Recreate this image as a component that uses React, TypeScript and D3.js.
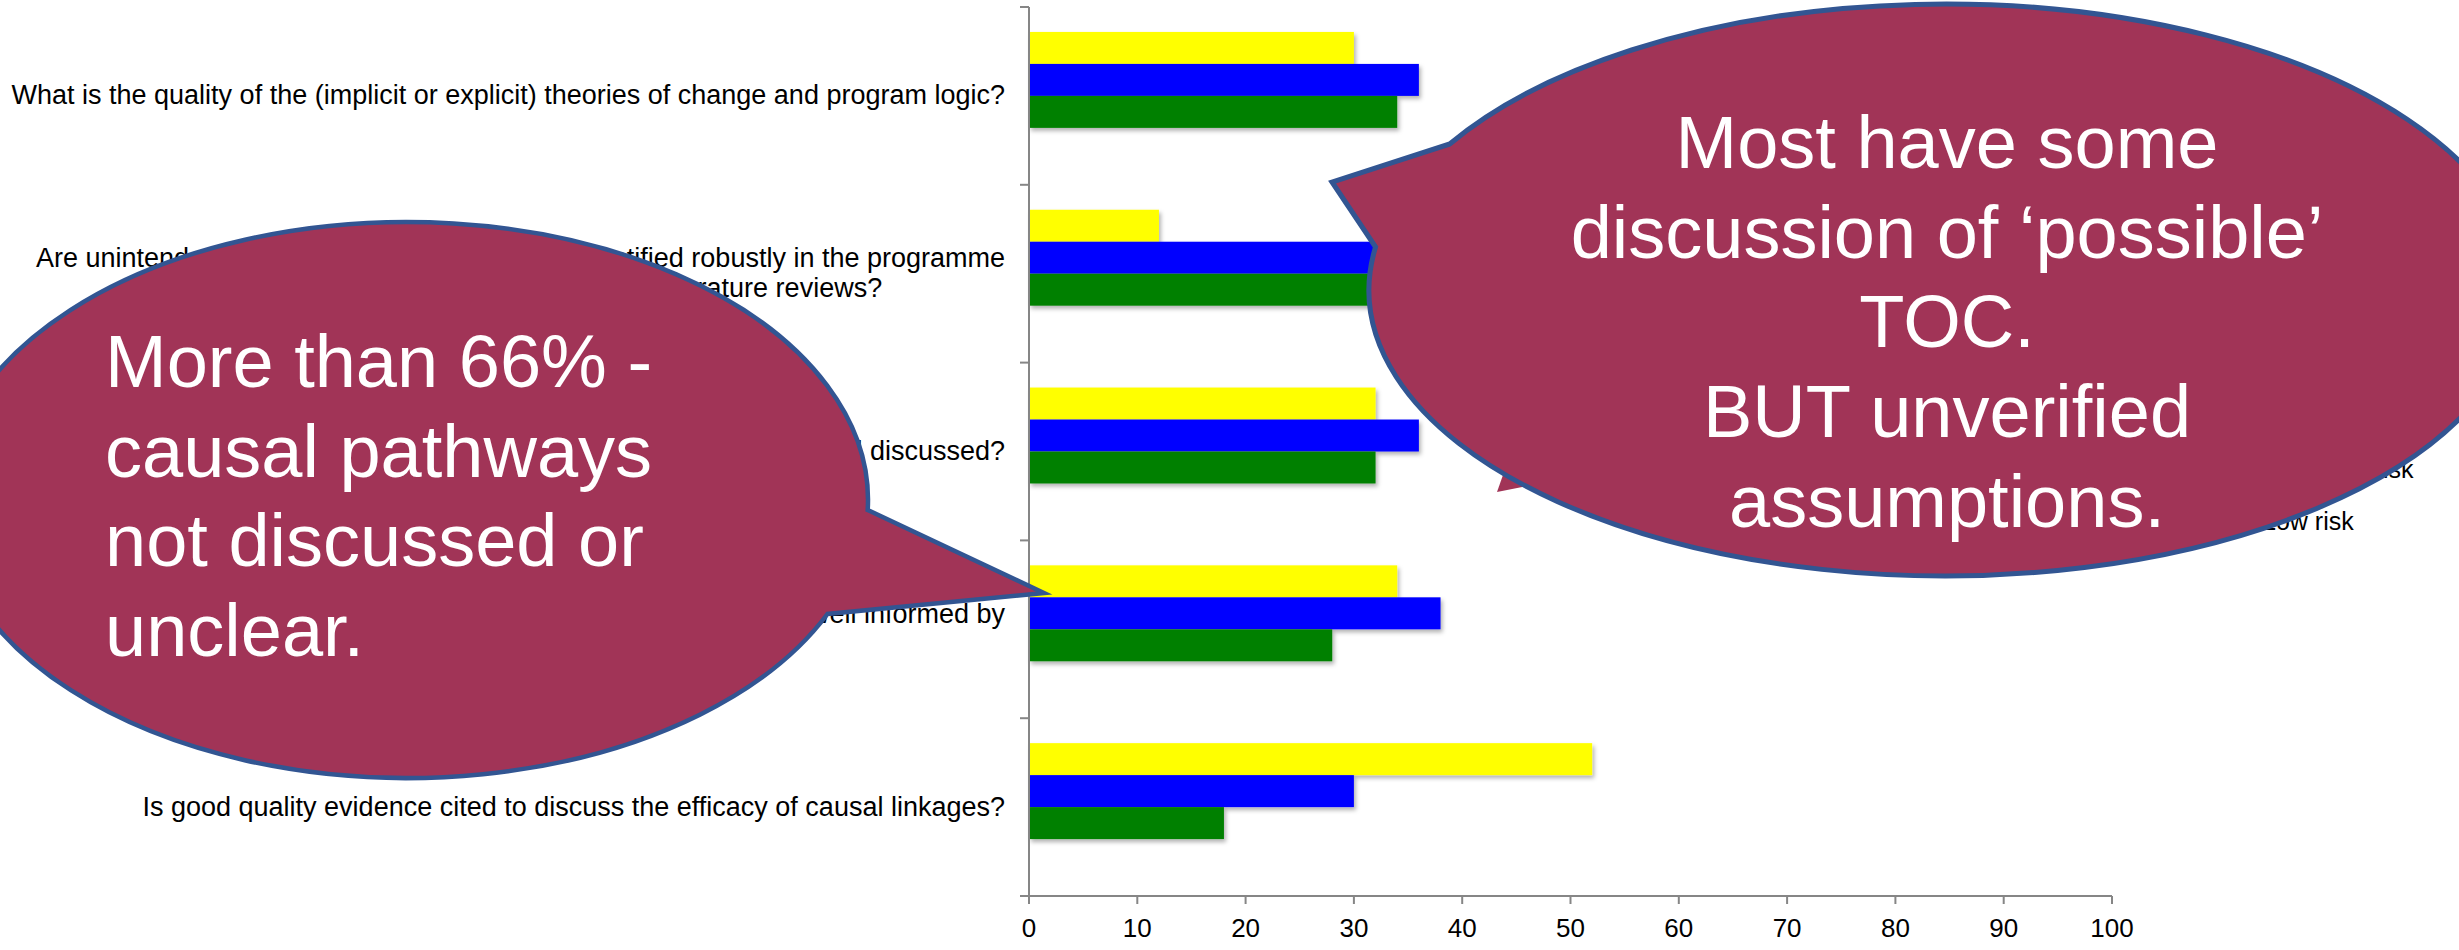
import React from "react";
import * as d3 from "d3";

const questions = [
  "What is the quality of the (implicit or explicit) theories of change and program logic?",
  "Are unintended impacts and negative effects identified robustly in the programme\ntheory of change documents and relevant literature reviews?",
  "Are the causal pathways and mechanisms clearly identified and well discussed?",
  "Is the theory of change and the programme logic well informed by\nevidence?",
  "Is good quality evidence cited to discuss the efficacy of causal linkages?",
];
const seriesNames = ["High risk", "Moderate risk", "Low risk"];
const highRisk = [30, 12, 32, 34, 52];
const moderateRisk = [36, 46, 36, 38, 30];
const lowRisk = [34, 42, 32, 28, 18];
const seriesValues = [highRisk, moderateRisk, lowRisk];
const seriesColors = ["#FFFF00", "#0000FF", "#008000"];
const xTicks = [0, 10, 20, 30, 40, 50, 60, 70, 80, 90, 100];

const leftCalloutLines = ["More than 66% -", "causal pathways", "not discussed or", "unclear."];
const rightCalloutLines = ["Most have some", "discussion of \u2018possible\u2019", "TOC.", "BUT unverified", "assumptions."];

const W = 2459;
const H = 950;
const FONT = "'Liberation Sans', Arial, Helvetica, sans-serif";
const LABEL_SIZE = 27;
const LABEL_LINE = 30;
const LABEL_RIGHT = 1005;
const AXIS_COLOR = "#868686";
const BUBBLE_FILL = "#A13457";
const BUBBLE_STROKE = "#325592";

let ctx: CanvasRenderingContext2D | null = null;
function measure(t: string): number {
  if (!ctx) {
    const c = document.createElement("canvas");
    ctx = c.getContext("2d");
  }
  if (!ctx) return t.length * 12;
  ctx.font = `${LABEL_SIZE}px ${FONT}`;
  return ctx.measureText(t).width;
}

function calloutPath(
  cx: number, cy: number, rx: number, ry: number,
  side: number, yA: number, yB: number, tip: [number, number], sweep: number
) {
  const xAt = (yv: number) => cx + side * rx * Math.sqrt(Math.max(0, 1 - ((yv - cy) / ry) ** 2));
  const ax = xAt(yA);
  const bx = xAt(yB);
  return `M${ax},${yA} L${tip[0]},${tip[1]} L${bx},${yB} A${rx},${ry} 0 1 ${sweep} ${ax},${yA} Z`;
}

export default function App() {
  const x = d3.scaleLinear().domain([0, 100]).range([1029, 2112]);
  const y = d3.scaleBand<string>().domain(questions).range([7, 896]);
  const slots = [...seriesNames, ""];
  const ySub = d3.scaleBand<string>().domain(slots).range([0, y.bandwidth()]).paddingOuter(0.78);
  const axisX = x(0);
  const axisY = y.range()[1];
  const boundaries = [...questions.map((q) => y(q) as number), axisY];

  const leftPath = calloutPath(407, 500, 461, 278, 1, 510, 614, [1044, 593], 1);
  const rightPath = calloutPath(1945, 290, 576, 286, -1, 144, 247, [1332, 182], 0);

  return (
    <svg
      width={W}
      height={H}
      style={{ position: "absolute", left: 0, top: 0, display: "block", background: "#fff" }}
      fontFamily={FONT}
    >
      <defs>
        <filter id="barShadow" x="-5%" y="-20%" width="115%" height="160%">
          <feDropShadow dx="2" dy="3" stdDeviation="2" floodColor="#000" floodOpacity="0.3" />
        </filter>
      </defs>

      {/* bars */}
      {questions.map((q, qi) => (
        <g key={q} transform={`translate(0,${y(q)})`}>
          {seriesNames.map((s, si) => (
            <rect
              key={s}
              x={axisX}
              y={ySub(s)}
              width={x(seriesValues[si][qi]) - axisX}
              height={ySub.bandwidth()}
              fill={seriesColors[si]}
              filter="url(#barShadow)"
            />
          ))}
        </g>
      ))}

      {/* y axis */}
      <line x1={axisX} x2={axisX} y1={y.range()[0]} y2={axisY} stroke={AXIS_COLOR} strokeWidth={2} />
      {boundaries.map((b, i) => (
        <line key={i} x1={axisX - 9} x2={axisX} y1={b} y2={b} stroke={AXIS_COLOR} strokeWidth={2} />
      ))}
      {/* x axis */}
      <line x1={axisX - 9} x2={x(100)} y1={axisY} y2={axisY} stroke={AXIS_COLOR} strokeWidth={2} />
      {xTicks.map((t) => (
        <g key={t}>
          <line x1={x(t)} x2={x(t)} y1={axisY} y2={axisY + 8} stroke={AXIS_COLOR} strokeWidth={2} />
          <text x={x(t)} y={axisY + 41} textAnchor="middle" fontSize={26} fill="#000">
            {t}
          </text>
        </g>
      ))}

      {/* category labels */}
      {questions.map((q) => {
        const lines = q.split("\n");
        const widths = lines.map(measure);
        const maxW = Math.max(...widths);
        const cxL = LABEL_RIGHT - maxW / 2;
        const c = (y(q) as number) + y.bandwidth() / 2;
        const firstBase = c + 8.5 - ((lines.length - 1) * LABEL_LINE) / 2;
        return (
          <text key={q} fontSize={LABEL_SIZE} fill="#000" textAnchor="middle">
            {lines.map((l, i) => (
              <tspan key={i} x={cxL} y={firstBase + i * LABEL_LINE}>
                {l}
              </tspan>
            ))}
          </text>
        );
      })}

      {/* legend */}
      {seriesNames.map((s, i) => (
        <g key={s}>
          <rect x={2238} y={417 + 52 * i - 7} width={14} height={14} fill={seriesColors[i]} />
          <text x={2262} y={426 + 52 * i} fontSize={25} fill="#000">
            {s}
          </text>
        </g>
      ))}

      {/* stray tail behind right callout */}
      <polygon points="1497,492 1521,424 1617,468" fill={BUBBLE_FILL} />

      {/* right callout */}
      <path d={rightPath} fill={BUBBLE_FILL} stroke={BUBBLE_STROKE} strokeWidth={5} strokeLinejoin="miter" />
      <text fontSize={74} fill="#fff" textAnchor="middle">
        {rightCalloutLines.map((l, i) => (
          <tspan key={i} x={1947} y={168 + 89.7 * i}>
            {l}
          </tspan>
        ))}
      </text>

      {/* left callout */}
      <path d={leftPath} fill={BUBBLE_FILL} stroke={BUBBLE_STROKE} strokeWidth={4.5} strokeLinejoin="miter" />
      <text fontSize={74} fill="#fff">
        {leftCalloutLines.map((l, i) => (
          <tspan key={i} x={105} y={387 + 89.5 * i}>
            {l}
          </tspan>
        ))}
      </text>
    </svg>
  );
}
